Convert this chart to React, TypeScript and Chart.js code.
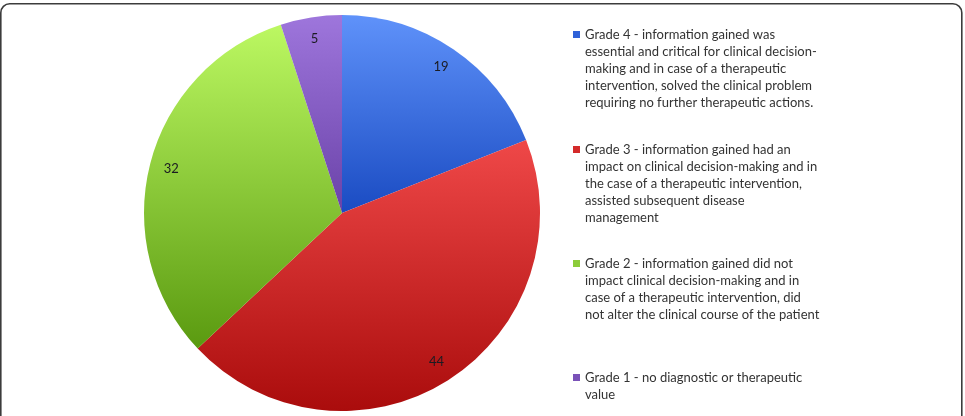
import React, { useEffect, useRef } from "react";
import { Chart, registerables } from "chart.js";

Chart.register(...registerables);

const categories = ["Grade 4", "Grade 3", "Grade 2", "Grade 1"];
const values = [19, 44, 32, 5];
const legendLines = [
  [
    "Grade 4 - information gained was",
    "essential and critical for clinical decision-",
    "making and in case of a therapeutic",
    "intervention, solved the clinical problem",
    "requiring no further therapeutic actions.",
  ],
  [
    "Grade 3 - information gained had an",
    "impact on clinical decision-making and in",
    "the case of a therapeutic intervention,",
    "assisted subsequent disease",
    "management",
  ],
  [
    "Grade 2 - information gained did not",
    "impact clinical decision-making and in",
    "case of a therapeutic intervention, did",
    "not alter the clinical course of the patient",
  ],
  ["Grade 1 - no diagnostic or therapeutic", "value"],
];
const topColors = ["#5f92fa", "#ef4848", "#bcf862", "#9e76dc"];
const bottomColors = ["#1a4bc2", "#aa0c0c", "#5a9a10", "#6a42a8"];
const legendBoxColors = ["#2f62d8", "#d42a2a", "#8ccc3a", "#7a52b8"];
const legendItemTops = [35, 150, 264, 378];

function sliceYBounds(index: number, cy: number, r: number) {
  const total = values.reduce((a, b) => a + b, 0);
  let before = 0;
  for (let i = 0; i < index; i++) before += values[i];
  const a0 = -Math.PI / 2 + (before / total) * Math.PI * 2;
  const a1 = a0 + (values[index] / total) * Math.PI * 2;
  const ys = [cy, cy + r * Math.sin(a0), cy + r * Math.sin(a1)];
  const norm = (a: number) => ((a % (2 * Math.PI)) + 2 * Math.PI) % (2 * Math.PI);
  const inRange = (t: number) => {
    const s = norm(a0);
    const d = norm(t - s);
    return d <= a1 - a0;
  };
  if (inRange(-Math.PI / 2)) ys.push(cy - r);
  if (inRange(Math.PI / 2)) ys.push(cy + r);
  return [Math.min(...ys), Math.max(...ys)];
}

const framePlugin = {
  id: "frame",
  beforeDraw(chart: any) {
    const ctx = chart.ctx;
    ctx.save();
    ctx.fillStyle = "#ffffff";
    ctx.fillRect(0, 0, chart.width, chart.height);
    ctx.strokeStyle = "#3c3c3c";
    ctx.lineWidth = 1.6;
    ctx.beginPath();
    (ctx as any).roundRect(0.8, 3.8, 961, 440, 9);
    ctx.stroke();
    ctx.restore();
  },
};

const labelPlugin = {
  id: "sliceLabels",
  afterDatasetsDraw(chart: any) {
    const ctx = chart.ctx;
    const meta = chart.getDatasetMeta(0);
    ctx.save();
    ctx.font = "13px Lato, 'Open Sans', sans-serif";
    ctx.fillStyle = "#1b1b22";
    ctx.textAlign = "center";
    ctx.textBaseline = "middle";
    meta.data.forEach((arc: any, i: number) => {
      const p = arc.getProps(["x", "y", "startAngle", "endAngle", "outerRadius"], true);
      const mid = (p.startAngle + p.endAngle) / 2;
      const d = p.outerRadius * 0.89;
      ctx.fillText(String(values[i]), p.x + Math.cos(mid) * d, p.y + Math.sin(mid) * d);
    });
    ctx.restore();
  },
};

const legendPlugin = {
  id: "customLegend",
  afterDraw(chart: any) {
    const ctx = chart.ctx;
    ctx.save();
    ctx.font = "13px Lato, 'Open Sans', sans-serif";
    ctx.fillStyle = "#333333";
    ctx.textAlign = "left";
    ctx.textBaseline = "middle";
    const boxX = 573;
    const textX = 585;
    const lineH = 17;
    legendLines.forEach((lines, i) => {
      const top = legendItemTops[i];
      ctx.fillStyle = legendBoxColors[i];
      ctx.fillRect(boxX, top - 4, 7, 7);
      ctx.fillStyle = "#333333";
      lines.forEach((line, j) => {
        ctx.fillText(line, textX, top + j * lineH);
      });
    });
    ctx.restore();
  },
};

export default function App() {
  const canvasRef = useRef<HTMLCanvasElement | null>(null);
  useEffect(() => {
    if (!canvasRef.current) return;
    const chart = new Chart(canvasRef.current, {
      type: "pie",
      data: {
        labels: categories,
        datasets: [
          {
            data: values,
            borderWidth: 0,
            backgroundColor: (c: any) => {
              const i = c.dataIndex ?? 0;
              const area = c.chart.chartArea;
              if (!area) return topColors[i];
              const cy = (area.top + area.bottom) / 2;
              const r = Math.min(area.right - area.left, area.bottom - area.top) / 2;
              const [y0, y1] = sliceYBounds(i, cy, r);
              const g = c.chart.ctx.createLinearGradient(0, y0, 0, y1);
              g.addColorStop(0, topColors[i]);
              g.addColorStop(1, bottomColors[i]);
              return g;
            },
          },
        ],
      },
      options: {
        responsive: false,
        animation: false,
        layout: { padding: { left: 144, right: 425, top: 15, bottom: 5 } },
        plugins: {
          legend: { display: false },
          tooltip: { enabled: false },
          title: { display: false },
        },
      },
      plugins: [framePlugin, labelPlugin, legendPlugin],
    });
    return () => chart.destroy();
  }, []);
  return (
    <div style={{ position: "absolute", left: 0, top: 0, width: 965, height: 416, background: "#fff" }}>
      <canvas ref={canvasRef} width={965} height={416} style={{ width: 965, height: 416, display: "block" }} />
    </div>
  );
}
